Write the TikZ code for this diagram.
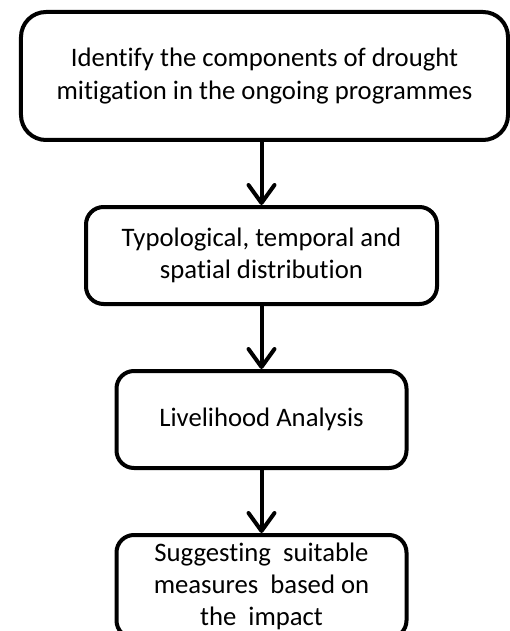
\documentclass[tikz,border=0pt]{standalone}
\usepackage{fontspec}
\setmainfont{Carlito}[Ligatures=NoCommon]
\usetikzlibrary{positioning}
\usetikzlibrary{arrows.meta}

\begin{document}
\begin{tikzpicture}[
    node distance=1.26cm,
    box/.style={rectangle, draw, line width=0.08cm, rounded corners=0.35cm, minimum height=1.94cm, minimum width=5.8cm, align=center, inner sep=0pt, font=\fontsize{15.2pt}{18.4pt}\selectfont},
    flow/.style={line width=0.08cm, -{Straight Barb[length=0.36cm, width=0.52cm, line cap=round, line join=round]}}
]
    \useasboundingbox (0,0) rectangle (10.2,-12.62);
    \node[box, rounded corners=0.5cm, minimum width=9.74cm, minimum height=2.56cm] (identify) at (5.29,-1.52) {Identify the components of drought\\mitigation in the ongoing programmes};
    \node[box, minimum width=7.02cm, below=of identify, xshift=-0.06cm] (typology) {Typological, temporal and\\spatial distribution};
    \node[box, below=of typology] (livelihood) {Livelihood Analysis};
    \node[box, minimum height=2.06cm, below=of livelihood] (measures) {Suggesting\ \ suitable\\measures\ \ based on\\the\ \ impact};

    \draw[flow] (identify.south -| typology.north) -- (typology);
    \draw[flow] (typology) -- (livelihood);
    \draw[flow] (livelihood) -- (measures);
\end{tikzpicture}
\end{document}
